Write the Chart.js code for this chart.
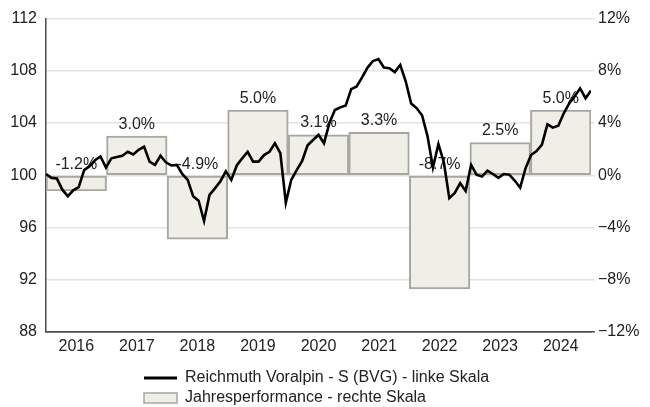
<!DOCTYPE html>
<html>
<head>
<meta charset="utf-8">
<script src="https://cdn.jsdelivr.net/npm/chart.js@4/dist/chart.umd.min.js"></script>
<style>
  html, body { margin: 0; padding: 0; background: #fff; }
  #wrap { width: 650px; height: 407px; }
</style>
</head>
<body>
<div id="wrap"><canvas id="chart" width="650" height="407"></canvas></div>
<script>
// Calendar years for the yearly performance bars
const years = ['2016', '2017', '2018', '2019', '2020', '2021', '2022', '2023', '2024'];
// Yearly performance in percent (right scale)
const yearlyPerformance = [-1.2, 3.0, -4.9, 5.0, 3.1, 3.3, -8.7, 2.5, 5.0];
// Fund price series, indexed to 100 at the start (left scale)
const fundValues = [
  100.1, 99.8, 99.75, 98.9, 98.4, 98.85, 99.1, 100.4, 100.7, 101.15,
  101.45, 100.6, 101.3, 101.4, 101.5, 101.8, 101.6, 101.95, 102.2, 101.05,
  100.8, 101.5, 101.0, 100.75, 100.8, 100.1, 99.65, 98.4, 98.05, 96.5,
  98.5, 99.0, 99.55, 100.3, 99.65, 100.75, 101.3, 101.8, 101.05, 101.05,
  101.55, 101.8, 102.45, 101.7, 97.9, 99.65, 100.4, 101.1, 102.3, 102.7,
  103.1, 102.45, 104.0, 105.0, 105.2, 105.35, 106.6, 106.8, 107.5, 108.25,
  108.75, 108.9, 108.25, 108.2, 107.9, 108.45, 107.2, 105.5, 105.15, 104.6,
  103.0, 100.6, 102.4, 101.0, 98.25, 98.65, 99.4, 98.8, 100.8, 100.05,
  99.9, 100.35, 100.1, 99.8, 100.1, 100.05, 99.6, 99.05, 100.55, 101.55,
  101.85, 102.35, 103.9, 103.65, 103.8, 104.75, 105.5, 106.05, 106.65, 105.9,
  106.5
];
// Tick values of both value axes
const leftTicks = [88, 92, 96, 100, 104, 108, 112];
const rightTicks = [-12, -8, -4, 0, 4, 8, 12];
// Series names
const lineLabel = 'Reichmuth Voralpin - S (BVG) - linke Skala';
const barLabel = 'Jahresperformance - rechte Skala';

const FONT = '"Liberation Sans", Arial, Helvetica, sans-serif';
const TEXT = '#222222';
const GRID = '#e3e3e3';
const AXIS = '#4d4d4d';

Chart.defaults.font.family = FONT;
Chart.defaults.font.size = 16;
Chart.defaults.color = TEXT;

// Writes the yearly percentage above each bar (or above the zero line for losses)
const barValueLabels = {
  id: 'barValueLabels',
  afterDatasetDraw(chart, args) {
    if (args.index !== 1) return;
    const ctx = chart.ctx;
    ctx.save();
    ctx.font = '16px ' + FONT;
    ctx.fillStyle = TEXT;
    ctx.textAlign = 'center';
    ctx.textBaseline = 'alphabetic';
    args.meta.data.forEach((bar, i) => {
      const top = Math.min(bar.y, bar.base);
      ctx.fillText(yearlyPerformance[i].toFixed(1) + '%', bar.x, top - 7.5);
    });
    ctx.restore();
  }
};

// Places the two-row legend block below the year labels, rows left-aligned
const legendPlacement = {
  id: 'legendPlacement',
  afterLayout(chart) {
    const lg = chart.legend;
    if (!lg) return;
    const h = lg.bottom - lg.top;
    lg.left = 140;
    lg.top = 366;
    lg.bottom = lg.top + h;
  }
};

new Chart(document.getElementById('chart'), {
  type: 'bar',
  data: {
    labels: years,
    datasets: [
      {
        type: 'line',
        label: lineLabel,
        data: fundValues.map((v, i) => ({ x: i, y: v })),
        xAxisID: 'xl',
        yAxisID: 'y',
        borderColor: '#000000',
        backgroundColor: '#000000',
        borderWidth: 2.6,
        pointRadius: 0,
        tension: 0,
        fill: false
      },
      {
        type: 'bar',
        label: barLabel,
        data: yearlyPerformance,
        xAxisID: 'x',
        yAxisID: 'y2',
        backgroundColor: '#efeee7',
        borderColor: '#a7a7a0',
        borderWidth: 2,
        borderSkipped: false,
        grouped: false,
        barPercentage: 1,
        categoryPercentage: 1
      }
    ]
  },
  options: {
    responsive: false,
    animation: false,
    devicePixelRatio: 1,
    layout: { padding: { top: 17, left: 0, right: 0, bottom: 0 } },
    plugins: {
      tooltip: { enabled: false },
      legend: {
        position: 'bottom',
        fullSize: false,
        align: 'start',
        labels: {
          usePointStyle: true,
          pointStyleWidth: 33,
          boxHeight: 10,
          padding: 4,
          color: TEXT,
          font: { size: 16 },
          generateLabels(chart) {
            return chart.data.datasets.map((ds, i) => ({
              text: ds.label,
              datasetIndex: i,
              hidden: false,
              fillStyle: ds.backgroundColor,
              strokeStyle: ds.borderColor,
              lineWidth: i === 0 ? 3 : 1.5,
              pointStyle: i === 0 ? 'line' : 'rect',
              fontColor: TEXT
            }));
          }
        }
      }
    },
    scales: {
      x: {
        type: 'category',
        offset: true,
        grid: { display: false, drawTicks: false, tickLength: 0 },
        border: { display: true, color: AXIS, width: 1.5 },
        ticks: { color: TEXT, font: { size: 16 }, padding: 5, maxRotation: 0, autoSkip: false },
        afterFit(scale) { scale.height = 25; }
      },
      xl: {
        type: 'linear',
        display: false,
        offset: false,
        grid: { offset: false },
        min: 0,
        max: fundValues.length - 1
      },
      y: {
        position: 'left',
        min: leftTicks[0],
        max: leftTicks[leftTicks.length - 1],
        afterBuildTicks(scale) { scale.ticks = leftTicks.map(v => ({ value: v })); },
        grid: {
          color: ctx => (ctx.tick && ctx.tick.value === leftTicks[0]) ? AXIS : GRID,
          lineWidth: 1.5,
          drawTicks: false
        },
        border: { display: true, color: AXIS, width: 1.5 },
        ticks: { padding: 9, color: TEXT, font: { size: 16 } },
        afterFit(scale) { scale.width = 46; }
      },
      y2: {
        position: 'right',
        min: rightTicks[0],
        max: rightTicks[rightTicks.length - 1],
        afterBuildTicks(scale) { scale.ticks = rightTicks.map(v => ({ value: v })); },
        grid: {
          drawOnChartArea: false,
          color: ctx => (ctx.tick && ctx.tick.value === rightTicks[0]) ? AXIS : GRID,
          lineWidth: 1.5,
          tickLength: 4
        },
        border: { display: false },
        ticks: {
          padding: 3,
          color: TEXT,
          font: { size: 16 },
          callback: v => (v < 0 ? '\u2212' : '') + Math.abs(v) + '%'
        },
        afterFit(scale) { scale.width = 59; }
      }
    }
  },
  plugins: [barValueLabels, legendPlacement]
});
</script>
</body>
</html>
